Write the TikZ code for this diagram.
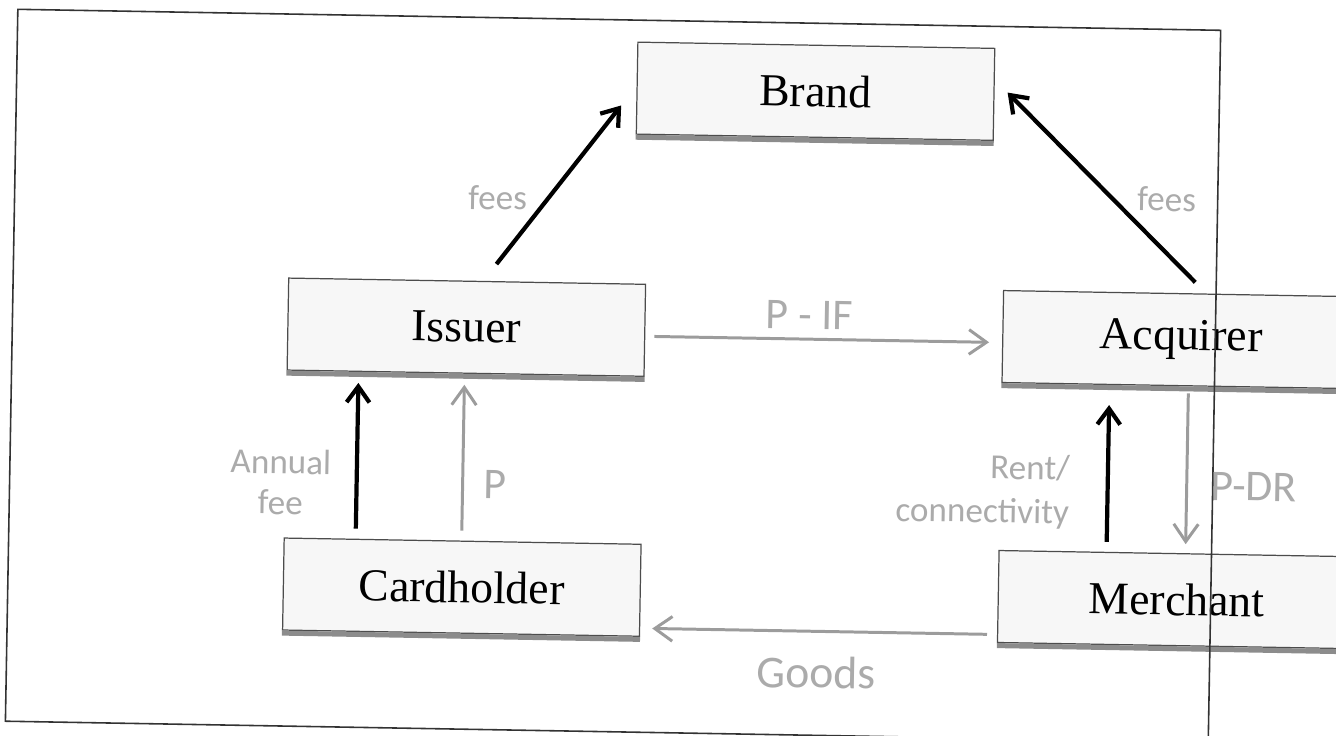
\documentclass[tikz,border=0pt]{standalone}
\usepackage{fontspec}
\setmainfont{Liberation Serif}
\newfontfamily\labfont{Carlito}
\usetikzlibrary{arrows.meta,calc}
\definecolor{labgray}{HTML}{ABABAB}
\definecolor{arrgray}{HTML}{9C9C9C}
\tikzset{
  partybox/.style={draw=black!70, line width=0.7pt, fill=black!3,
    minimum width=7.14cm, minimum height=1.84cm, inner sep=0pt,
    font=\fontsize{26}{30}\selectfont},
  fatarrow/.style={draw=black, line width=2.4pt,
    -{Straight Barb[length=9pt,width=13pt]}},
  grayarrow/.style={draw=arrgray, line width=1.7pt,
    -{Straight Barb[length=10pt,width=14pt]}},
  lab/.style={text=labgray, inner sep=0pt, font=\labfont\fontsize{20}{23}\selectfont},
  biglab/.style={text=labgray, inner sep=0pt, font=\labfont\fontsize{25}{28}\selectfont},
  shadowbar/.style={fill=black!45},
  frameline/.style={draw=black!80, line width=0.9pt}
}
\begin{document}
\begin{tikzpicture}[x=0.02cm, y=-0.02cm]
\useasboundingbox (0,0) rectangle (1336,736);
\begin{scope}[rotate=-1, transform shape]
  % boxes
  \node[partybox] (brand)      at (817,77)  {Brand};
  \node[partybox] (issuer)     at (472,319) {Issuer};
  \node[partybox] (acquirer)   at (1187,319) {Acquirer};
  \node[partybox] (cardholder) at (472,579) {Cardholder};
  \node[partybox] (merchant)   at (1187,579) {Merchant};
  \foreach \n in {brand,issuer,acquirer,cardholder,merchant}
    \fill[shadowbar] (\n.south west) rectangle ($(\n.south east)+(0,5)$);

  % connectors
  \draw[fatarrow] ($(issuer.north)+(29,-17)$) -- ($(brand.south west)+(-15,-29)$);
  \draw[fatarrow] ($(acquirer.north)+(13,-11)$) -- ($(brand.east)+(13,-2)$);
  \draw[grayarrow] ($(issuer.east)+(9,6)$) -- ($(acquirer.west)+(-13,6)$);
  \draw[fatarrow] ($(cardholder.north)+(-107,-10)$) -- ($(issuer.south)+(-107,11)$);
  \draw[grayarrow] ($(cardholder.north)+(-1,-10)$) -- ($(issuer.south)+(-1,11)$);
  \draw[fatarrow] ($(merchant.north)+(-71,-10)$) -- ($(acquirer.south)+(-71,20)$);
  \draw[grayarrow] ($(acquirer.south)+(8,7)$) -- ($(merchant.north)+(8,-9)$);
  \draw[grayarrow] ($(merchant.west)+(-10,38)$) -- ($(cardholder.east)+(12,38)$);

  % labels
  \node[lab] (feesL) at (501,189) {fees};
  \node[lab] (feesR) at (1170,179) {fees};
  \node[biglab] (pif) at (815,301) {P - IF};
  \node[lab, align=center] (annual) at (289,477) {Annual\\fee};
  \node[biglab] (pl) at (503,476) {P};
  \node[lab, align=right, font=\labfont\fontsize{20}{25}\selectfont] (rent) at (991,474) {Rent/\\connectivity};
  \node[biglab] (pdr) at (1262,465) {P-DR};
  \node[biglab, font=\labfont\fontsize{26}{30}\selectfont] (goods) at (828,658) {Goods};

  % outer frame
  \draw[frameline] (18,9) rectangle (1221,721);
\end{scope}
\end{tikzpicture}
\end{document}
